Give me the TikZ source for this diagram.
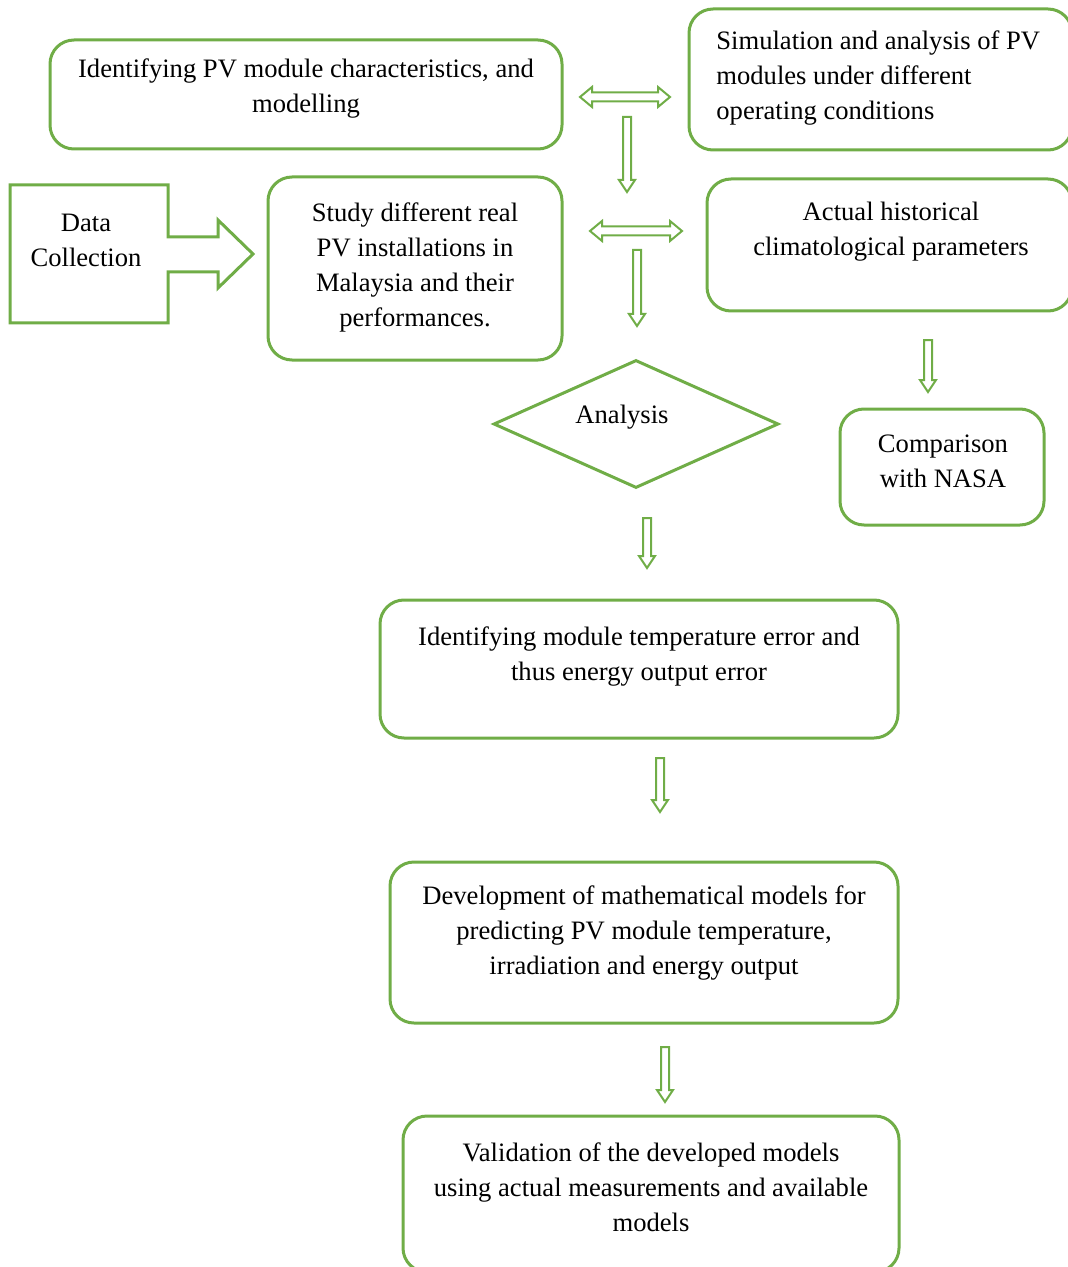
\documentclass[tikz,border=0pt]{standalone}
\usepackage{fontspec}
\setmainfont{Liberation Serif}
\usepackage{tikz}
\usetikzlibrary{shapes.geometric}
\definecolor{leaf}{HTML}{70AD47}
\tikzset{
  stage/.style={draw=leaf, line width=1.5pt, rounded corners=12pt, inner sep=0pt},
  words/.style={align=center, font=\fontsize{13.3}{17.5}\selectfont},
  hollow/.style={draw=leaf, line width=1pt, fill=white, line join=miter}
}
% hollow block arrows: (x:top:bottom) and (y:left:right)
\def\downblock(#1:#2:#3){\draw[hollow] (#1-4,#2) -- (#1+4,#2) -- (#1+4,#3-12) -- (#1+8,#3-12) -- (#1,#3) -- (#1-8,#3-12) -- (#1-4,#3-12) -- cycle;}
\def\twinblock(#1:#2:#3){\draw[hollow] (#2,#1) -- (#2+12,#1-10) -- (#2+12,#1-4.5) -- (#3-12,#1-4.5) -- (#3-12,#1-10) -- (#3,#1) -- (#3-12,#1+10) -- (#3-12,#1+4.5) -- (#2+12,#1+4.5) -- (#2+12,#1+10) -- cycle;}

\begin{document}
\begin{tikzpicture}[x=0.5pt, y=-0.5pt]
			%%%%% START %%%%%
			\useasboundingbox (0,0) rectangle (1068,1267);
			\clip (0,0) rectangle (1068,1267);
			
			\node[stage, minimum width=256pt, minimum height=54.5pt] (modelling) at (306, 94.5) {};
			\node[words] (modellingtxt) at (306, 89) {Identifying PV module characteristics, and\\modelling};
			
			\node[stage, minimum width=191.5pt, minimum height=70.5pt] (simulation) at (880.5, 79.5) {};
			\node[words, align=left, anchor=west, inner sep=0pt] (simulationtxt) at (716, 78.5) {Simulation and analysis of PV\\modules under different\\operating conditions};
			
			\draw[leaf, line width=1.5pt] (10,185) -- (168,185) -- (168,237) -- (218,237) -- (218,220) -- (253,254) -- (218,288) -- (218,272) -- (168,272) -- (168,323) -- (10,323) -- cycle;
			\node[words] (datatxt) at (86, 240.5) {Data\\Collection};
			
			\node[stage, minimum width=147pt, minimum height=91.5pt] (study) at (415, 268.5) {};
			\node[words] (studytxt) at (415, 267) {Study different real\\PV installations in\\Malaysia and their\\performances.};
			
			\node[stage, minimum width=182.5pt, minimum height=66pt] (climate) at (889.5, 245) {};
			\node[words] (climatetxt) at (891, 232) {Actual historical\\climatological parameters};
			
			\node[diamond, draw=leaf, line width=1.5pt, inner sep=0pt, minimum width=142.5pt, minimum height=64pt] (analysis) at (636, 424) {};
			\node[words] (analysistxt) at (622, 417) {Analysis};
			
			\node[stage, minimum width=102pt, minimum height=58pt] (nasa) at (942, 467) {};
			\node[words] (nasatxt) at (943, 461) {Comparison\\with NASA};
			
			\node[stage, minimum width=259pt, minimum height=69pt] (error) at (639, 669) {};
			\node[words] (errortxt) at (639, 656.5) {Identifying module temperature error and\\thus energy output error};
			
			\node[stage, minimum width=254pt, minimum height=80.5pt] (models) at (644, 942.5) {};
			\node[words] (modelstxt) at (644, 933) {Development of mathematical models for\\predicting PV module temperature,\\irradiation and energy output};
			
			\node[stage, minimum width=248pt, minimum height=78pt] (validation) at (651, 1194) {};
			\node[words] (validationtxt) at (651, 1187.5) {Validation of the developed models\\using actual measurements and available\\models};
			
			\twinblock(97:580:670)
			\downblock(627:117:192)
			\twinblock(231:590:682)
			\downblock(637:250:326)
			\downblock(928:340:392)
			\downblock(647:518:568)
			\downblock(660:758:812)
			\downblock(665:1047:1102)
			%%%%% END %%%%%
\end{tikzpicture}
\end{document}
